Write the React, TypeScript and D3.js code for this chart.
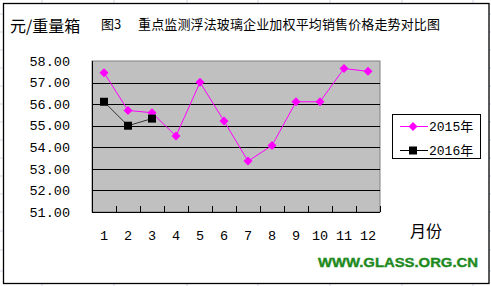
import React from "react";
import * as d3 from "d3";

const months = ["1", "2", "3", "4", "5", "6", "7", "8", "9", "10", "11", "12"];
const values2015 = [57.46, 55.71, 55.6, 54.52, 57.01, 55.22, 53.36, 54.08, 56.11, 56.11, 57.65, 57.52];
const values2016 = [56.11, 55.0, 55.33];
const yTicks = [51, 52, 53, 54, 55, 56, 57, 58];
const seriesNames = ["2015年", "2016年"];
const yUnit = "元/重量箱";
const titleFig = "图3";
const titleText = "重点监测浮法玻璃企业加权平均销售价格走势对比图";
const xUnit = "月份";
const watermark = "WWW.GLASS.ORG.CN";

const W = 491, H = 286;
const plot = { left: 92, right: 380, top: 61, bottom: 212 };
const monoFont = "'Liberation Mono', 'DejaVu Sans Mono', monospace";
const cjkFont = "'Noto Sans CJK SC', sans-serif";

export default function App() {
  const x = d3.scaleBand<string>().domain(months).range([plot.left, plot.right]).paddingInner(0).paddingOuter(0);
  const y = d3.scaleLinear().domain([51, 58]).range([plot.bottom, plot.top]);
  const cx = (i: number) => (x(months[i]) as number) + x.bandwidth() / 2;
  const line = d3.line<number>().x((_, i) => cx(i)).y((d) => y(d));
  const diamond = (px: number, py: number, r: number) => `M${px},${py - r}L${px + r},${py}L${px},${py + r}L${px - r},${py}Z`;

  const sheetX = [42, 114, 187, 258, 330, 402, 473];
  const sheetYRight = [14, 32, 50, 68, 86, 104, 122, 140, 158, 176, 194, 212, 231, 250, 271];

  return (
    <svg width={W} height={H} style={{ position: "absolute", left: 0, top: 0 }}>
      <rect x={0} y={0} width={W} height={H} fill="#ffffff" />
      {sheetX.map((sx) => (
        <g key={"sx" + sx}>
          <line x1={sx} x2={sx} y1={0} y2={3} stroke="#d0d7e5" />
          <line x1={sx} x2={sx} y1={284} y2={H} stroke="#d0d7e5" />
        </g>
      ))}
      {sheetYRight.map((sy) => (
        <g key={"sy" + sy}>
          <line x1={0} x2={3} y1={sy} y2={sy} stroke="#d0d7e5" />
          <line x1={489} x2={W} y1={sy} y2={sy} stroke="#d0d7e5" />
        </g>
      ))}
      <rect x={3.5} y={3.5} width={485.5} height={280} fill="#ffffff" stroke="#000000" strokeWidth={1.3} />

      <text x={10} y={32} fontFamily={cjkFont} fontSize={16} fill="#000">{yUnit}</text>
      <text x={101} y={29} fontFamily={cjkFont} fontSize={13} fill="#000">{titleFig}</text>
      <text x={138} y={29} fontFamily={cjkFont} fontSize={13} fill="#000" textLength={302} lengthAdjust="spacing">{titleText}</text>

      <rect x={plot.left} y={plot.top} width={plot.right - plot.left} height={plot.bottom - plot.top} fill="#c0c0c0" stroke="#808080" strokeWidth={1} />
      {yTicks.filter((t) => t > 51 && t < 58).map((t) => (
        <line key={"g" + t} x1={plot.left} x2={plot.right} y1={Math.round(y(t)) + 0.5} y2={Math.round(y(t)) + 0.5} stroke="#000" strokeWidth={1.2} />
      ))}
      <line x1={plot.left + 0.5} x2={plot.left + 0.5} y1={plot.top} y2={plot.bottom} stroke="#000" />
      <line x1={plot.left} x2={plot.right} y1={plot.bottom + 0.5} y2={plot.bottom + 0.5} stroke="#000" />
      {months.map((m) => {
        const tx = Math.round((x(m) as number) + x.bandwidth()) + 0.5;
        return <line key={"t" + m} x1={tx} x2={tx} y1={plot.bottom - 6} y2={plot.bottom} stroke="#000" />;
      })}

      {yTicks.map((t) => (
        <text key={"yl" + t} x={70} y={y(t)} dy="0.35em" textAnchor="end" fontFamily={monoFont} fontSize={13.5} fill="#000">{t.toFixed(2)}</text>
      ))}
      {months.map((m, i) => (
        <text key={"xl" + m} x={cx(i)} y={235} dy="0.35em" textAnchor="middle" fontFamily={monoFont} fontSize={13.5} fill="#000">{m}</text>
      ))}
      <text x={410} y={237} fontFamily={cjkFont} fontSize={16} fill="#000">{xUnit}</text>

      <path d={line(values2015) || ""} fill="none" stroke="#ff00ff" strokeWidth={1} />
      {values2015.map((v, i) => (
        <path key={"d" + i} d={diamond(cx(i), y(v), 4.5)} fill="#ff00ff" />
      ))}
      <path d={line(values2016) || ""} fill="none" stroke="#222" strokeWidth={0.9} />
      {values2016.map((v, i) => (
        <rect key={"s" + i} x={cx(i) - 4} y={y(v) - 4} width={8} height={8} fill="#000" />
      ))}

      <rect x={392.5} y={114.5} width={88} height={44} fill="#fff" stroke="#000" />
      <line x1={400} x2={428} y1={126.5} y2={126.5} stroke="#ff00ff" />
      <path d={diamond(413, 126.5, 4.5)} fill="#ff00ff" />
      <text x={429} y={126.5} dy="0.35em" fontFamily={monoFont} fontSize={13} fill="#000">{seriesNames[0].slice(0, 4)}<tspan fontFamily={cjkFont}>{seriesNames[0].slice(4)}</tspan></text>
      <line x1={400} x2={428} y1={150.5} y2={150.5} stroke="#000" />
      <rect x={409} y={146.5} width={8} height={8} fill="#000" />
      <text x={429} y={150.5} dy="0.35em" fontFamily={monoFont} fontSize={13} fill="#000">{seriesNames[1].slice(0, 4)}<tspan fontFamily={cjkFont}>{seriesNames[1].slice(4)}</tspan></text>

      <text x={318} y={267} fontFamily="'Liberation Sans', Arial, sans-serif" fontWeight="bold" fontSize={13.5} fill="#1e8a1e" stroke="#1e8a1e" strokeWidth={0.4} textLength={160} lengthAdjust="spacingAndGlyphs">{watermark}</text>
    </svg>
  );
}
